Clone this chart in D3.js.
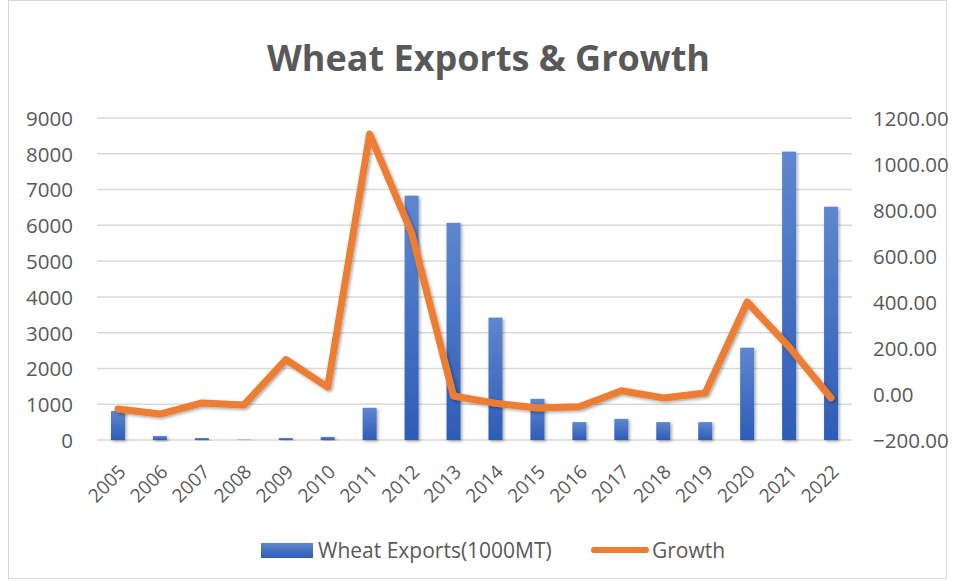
<!DOCTYPE html>
<html><head><meta charset="utf-8">
<script src="https://cdn.jsdelivr.net/npm/d3@7"></script>
<style>body{margin:0;background:#fff}svg{display:block}</style>
</head><body>
<svg id="c" width="955" height="581"></svg>
<script>
const years = ["2005","2006","2007","2008","2009","2010","2011","2012","2013","2014","2015","2016","2017","2018","2019","2020","2021","2022"];
const exportsVals = [810,110,55,10,55,85,900,6830,6070,3420,1150,500,590,500,500,2580,8060,6520];
const growthVals = [-65,-87,-39,-48,150,30,1130,700,-9,-40,-61,-55,14,-17,4,400,205,-17];
const leftTicks = [0,1000,2000,3000,4000,5000,6000,7000,8000,9000];
const rightTicks = [-200,0,200,400,600,800,1000,1200];
const titleText = "Wheat Exports & Growth";
const seriesNames = ["Wheat Exports(1000MT)","Growth"];

const svg = d3.select("#c");
const font = "'Open Sans', sans-serif";
const txt = "#595959";
const m = {l:97, r:852, t:118, b:440};

const defs = svg.append("defs");
const g1 = defs.append("linearGradient").attr("id","barg").attr("x1",0).attr("y1",0).attr("x2",0).attr("y2",1);
g1.append("stop").attr("offset","0%").attr("stop-color","#5f86cf");
g1.append("stop").attr("offset","100%").attr("stop-color","#2d5db7");
const f = defs.append("filter").attr("id","sh").attr("x","-20%").attr("y","-20%").attr("width","150%").attr("height","150%");
f.append("feDropShadow").attr("dx",1.5).attr("dy",1.5).attr("stdDeviation",1.5).attr("flood-color","#000").attr("flood-opacity",0.35);

svg.append("rect").attr("x",8.5).attr("y",0.5).attr("width",938).attr("height",578).attr("fill","#fff").attr("stroke","#d9d9d9");

const x = d3.scaleBand().domain(years).range([m.l,m.r]).paddingInner(0.667).paddingOuter(0.333);
const xc = d => x(d)+x.bandwidth()/2;
const yL = d3.scaleLinear().domain([0,9000]).range([m.b,m.t]);
const yR = d3.scaleLinear().domain([-200,1200]).range([m.b,m.t]);

// gridlines
svg.append("g").selectAll("line").data(leftTicks).join("line")
  .attr("x1",m.l).attr("x2",m.r).attr("y1",d=>yL(d)).attr("y2",d=>yL(d))
  .attr("stroke","#d9d9d9").attr("stroke-width",1.5);

// left axis
const axL = svg.append("g").attr("transform",`translate(${m.l-24},0)`)
  .call(d3.axisLeft(yL).tickValues(leftTicks).tickSize(0).tickPadding(0).tickFormat(d3.format("d")));
axL.select(".domain").remove();
axL.selectAll("text").attr("font-family",font).attr("font-size",20.5).attr("fill",txt).attr("dy","0.36em");

// right axis
const axR = svg.append("g").attr("transform",`translate(${m.r+21},0)`)
  .call(d3.axisRight(yR).tickValues(rightTicks).tickSize(0).tickPadding(0).tickFormat(d3.format(".2f")));
axR.select(".domain").remove();
axR.selectAll("text").attr("font-family",font).attr("font-size",20.5).attr("fill",txt).attr("dy","0.36em");

// bars
svg.append("g").selectAll("rect").data(years).join("rect")
  .attr("x",d=>x(d)).attr("width",x.bandwidth())
  .attr("y",(d,i)=>yL(exportsVals[i])).attr("height",(d,i)=>yL(0)-yL(exportsVals[i]))
  .attr("fill","url(#barg)").attr("filter","url(#sh)");

// x axis labels
const axX = svg.append("g").attr("transform",`translate(0,${m.b})`)
  .call(d3.axisBottom(x).tickSize(0).tickPadding(0));
axX.select(".domain").remove();
axX.selectAll("text").attr("font-family",font).attr("font-size",19).attr("fill",txt)
  .attr("text-anchor","end").attr("dy",null)
  .attr("transform","translate(9,33) rotate(-45)");

// growth line
const line = d3.line().x((d,i)=>xc(years[i])).y(d=>yR(d));
svg.append("path").datum(growthVals).attr("d",line).attr("fill","none")
  .attr("stroke","#ed7d31").attr("stroke-width",7).attr("stroke-linejoin","round").attr("stroke-linecap","round")
  .attr("filter","url(#sh)");

// title
svg.append("text").attr("x",488.5).attr("y",71).attr("text-anchor","middle")
  .attr("font-family",font).attr("font-weight","bold").attr("font-size",36).attr("fill",txt).text(titleText);

// legend
const lg = svg.append("g");
lg.append("rect").attr("x",261).attr("y",543).attr("width",52).attr("height",15).attr("fill","url(#barg)");
lg.append("text").attr("x",318).attr("y",558).attr("font-family",font).attr("font-size",21).attr("fill",txt).text(seriesNames[0]);
lg.append("line").attr("x1",594).attr("x2",646).attr("y1",550).attr("y2",550).attr("stroke","#ed7d31").attr("stroke-width",6).attr("stroke-linecap","round");
lg.append("text").attr("x",652).attr("y",558).attr("font-family",font).attr("font-size",21).attr("fill",txt).text(seriesNames[1]);
</script>
</body></html>
